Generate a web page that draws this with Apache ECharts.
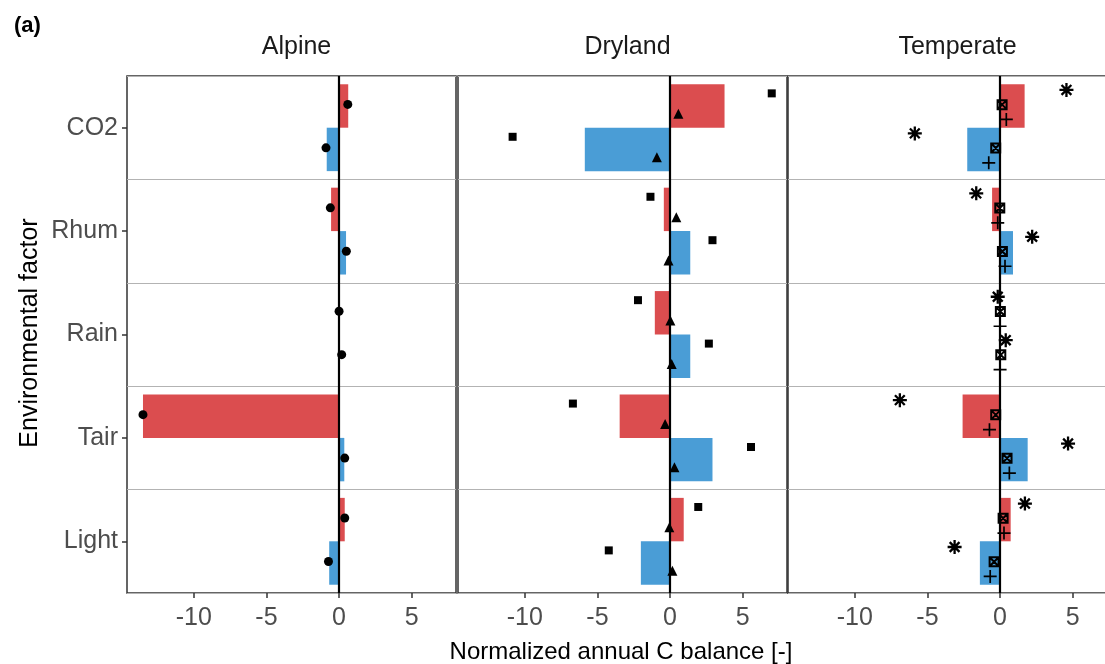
<!DOCTYPE html>
<html>
<head>
<meta charset="utf-8">
<script src="https://cdn.jsdelivr.net/npm/echarts@6/dist/echarts.min.js"></script>
<style>
  html, body { margin: 0; padding: 0; background: #fff; }
  #chart { width: 1105px; height: 664px; }
</style>
</head>
<body>
<div id="chart"></div>
<script>
// categories and facets
const categories = ['CO2', 'Rhum', 'Rain', 'Tair', 'Light']
const facets = ['Alpine', 'Dryland', 'Temperate']
const xTicks = [-10, -5, 0, 5]

// bars: red = upper half of each band, blue = lower half
const alpineRed = [0.63, -0.55, 0, -13.5, 0.39]
const alpineBlue = [-0.85, 0.48, 0, 0.36, -0.68]
const dryRed = [3.75, -0.43, -1.05, -3.47, 0.94]
const dryBlue = [-5.87, 1.39, 1.39, 2.92, -2.01]
const tempRed = [1.69, -0.55, 0, -2.58, 0.73]
const tempBlue = [-2.26, 0.89, 0, 1.9, -1.39]

// point markers
const alpineCircleRed = [0.6, -0.6, 0.0, -13.5, 0.39]
const alpineCircleBlue = [-0.9, 0.5, 0.18, 0.39, -0.73]
const drySquareRed = [7.0, -1.35, -2.21, -6.69, 1.94]
const drySquareBlue = [-10.84, 2.92, 2.67, 5.57, -4.22]
const dryTriRed = [0.57, 0.43, 0.02, -0.34, -0.05]
const dryTriBlue = [-0.91, -0.11, 0.11, 0.3, 0.16]
const tempStarRed = [4.57, -1.64, -0.16, -6.9, 1.71]
const tempStarBlue = [-5.87, 2.21, 0.39, 4.68, -3.13]
const tempXsqRed = [0.14, -0.02, 0.02, -0.3, 0.21]
const tempXsqBlue = [-0.3, 0.16, 0.05, 0.48, -0.41]
const tempPlusRed = [0.43, -0.16, 0.0, -0.73, 0.27]
const tempPlusBlue = [-0.78, 0.34, 0.0, 0.64, -0.68]

const RED = '#DB4D4F'
const BLUE = '#4A9DD6'
const FONT = 'Liberation Sans, Arial, sans-serif'

const gridLefts = [127, 458, 788]
const X_MIN = -14.6
const X_MAX = 8.05

// marker shapes (ggplot-ish)
const SYM = {
  circle: { symbol: 'circle', size: 9, stroke: false },
  square: { symbol: 'rect', size: 8, stroke: false },
  triangle: { symbol: 'triangle', size: 10, stroke: false },
  star: { symbol: 'path://M5,0L5,10M0,5L10,5M1.5,1.5L8.5,8.5M8.5,1.5L1.5,8.5', size: 14, stroke: 2.3 },
  xsquare: { symbol: 'path://M0,0L10,0L10,10L0,10ZM0,0L10,10M10,0L0,10', size: 9, stroke: 2 },
  plus: { symbol: 'path://M5,0L5,10M0,5L10,5', size: 13, stroke: 1.7 }
}

// half-band centres (band units) and dodge offsets per facet
const HALF_RED = 0.29
const HALF_BLUE = 0.71

function pts (vals, half, off) {
  return vals.map((v, i) => [v, i + half + off])
}

function scatter (g, vals, half, off, kind) {
  const s = SYM[kind]
  return {
    type: 'scatter',
    xAxisIndex: g,
    yAxisIndex: g * 2 + 1,
    data: pts(vals, half, off),
    symbol: s.symbol,
    symbolSize: s.size,
    z: 6,
    silent: true,
    itemStyle: s.stroke
      ? { color: 'rgba(0,0,0,0)', borderColor: '#000', borderWidth: s.stroke, opacity: 1 }
      : { color: '#000', opacity: 1 }
  }
}

function bars (g, red, blue) {
  return [
    {
      type: 'bar',
      xAxisIndex: g,
      yAxisIndex: g * 2,
      data: red,
      barGap: '0%',
      barCategoryGap: '16%',
      itemStyle: { color: RED },
      silent: true,
      markLine: {
        silent: true,
        symbol: 'none',
        label: { show: false },
        lineStyle: { color: '#000', width: 2.2, type: 'solid' },
        data: [{ xAxis: 0 }]
      }
    },
    {
      type: 'bar',
      xAxisIndex: g,
      yAxisIndex: g * 2,
      data: blue,
      barGap: '0%',
      barCategoryGap: '16%',
      itemStyle: { color: BLUE },
      silent: true
    }
  ]
}

const grid = gridLefts.map(l => ({
  left: l,
  top: 76,
  width: 329,
  height: 517,
  show: true,
  borderColor: '#333',
  borderWidth: 1.5,
  backgroundColor: '#fff',
  outerBoundsMode: 'none',
  containLabel: false
}))

const xAxis = gridLefts.map((l, g) => ({
  type: 'value',
  gridIndex: g,
  min: X_MIN,
  max: X_MAX,
  position: 'bottom',
  splitLine: { show: false },
  axisLine: { show: false, onZero: false },
  axisTick: { show: true, customValues: xTicks, length: 5, lineStyle: { color: '#333', width: 1.5 } },
  axisLabel: {
    customValues: xTicks,
    color: '#4D4D4D',
    fontSize: 25,
    fontFamily: FONT,
    margin: 13
  }
}))

const yAxis = []
gridLefts.forEach((l, g) => {
  yAxis.push({
    type: 'category',
    gridIndex: g,
    data: categories,
    inverse: true,
    axisLine: { show: false, onZero: false },
    axisTick: { show: g === 0, alignWithLabel: true, length: 5, lineStyle: { color: '#333', width: 1.5 } },
    axisLabel: { show: g === 0, color: '#4D4D4D', fontSize: 25, fontFamily: FONT, margin: 9 },
    splitLine: { show: true, lineStyle: { color: '#B3B3B3', width: 1 } }
  })
  yAxis.push({
    type: 'value',
    gridIndex: g,
    min: 0,
    max: 5,
    inverse: true,
    show: false
  })
})

const series = [
  ...bars(0, alpineRed, alpineBlue),
  ...bars(1, dryRed, dryBlue),
  ...bars(2, tempRed, tempBlue),
  scatter(0, alpineCircleRed, HALF_RED, -0.015, 'circle'),
  scatter(0, alpineCircleBlue, HALF_BLUE, -0.015, 'circle'),
  scatter(1, drySquareRed, HALF_RED, -0.122, 'square'),
  scatter(1, drySquareBlue, HALF_BLUE, -0.122, 'square'),
  scatter(1, dryTriRed, HALF_RED, 0.075, 'triangle'),
  scatter(1, dryTriBlue, HALF_BLUE, 0.075, 'triangle'),
  scatter(2, tempStarRed, HALF_RED, -0.155, 'star'),
  scatter(2, tempStarBlue, HALF_BLUE, -0.155, 'star'),
  scatter(2, tempXsqRed, HALF_RED, -0.013, 'xsquare'),
  scatter(2, tempXsqBlue, HALF_BLUE, -0.013, 'xsquare'),
  scatter(2, tempPlusRed, HALF_RED, 0.13, 'plus'),
  scatter(2, tempPlusBlue, HALF_BLUE, 0.13, 'plus')
]

const title = [
  { text: '(a)', left: 9, top: 10, textStyle: { fontSize: 22, fontWeight: 'bold', color: '#000', fontFamily: FONT } },
  { text: 'Normalized annual C balance [-]', left: 616, top: 635, textAlign: 'center', textStyle: { fontSize: 24, fontWeight: 'normal', color: '#000', fontFamily: FONT } }
]
facets.forEach((f, g) => {
  title.push({
    text: f,
    left: gridLefts[g] + 164.5,
    top: 30,
    textAlign: 'center',
    textStyle: { fontSize: 25, fontWeight: 'normal', color: '#1A1A1A', fontFamily: FONT }
  })
})

const chart = echarts.init(document.getElementById('chart'), null, { renderer: 'canvas' })
chart.setOption({
  animation: false,
  backgroundColor: '#fff',
  title: title,
  grid: grid,
  xAxis: xAxis,
  yAxis: yAxis,
  series: series,
  graphic: [
    {
      type: 'text',
      x: 30,
      y: 333,
      rotation: Math.PI / 2,
      style: {
        text: 'Environmental factor',
        fill: '#000',
        font: '25px ' + FONT,
        align: 'center',
        verticalAlign: 'middle'
      }
    }
  ]
})
</script>
</body>
</html>
